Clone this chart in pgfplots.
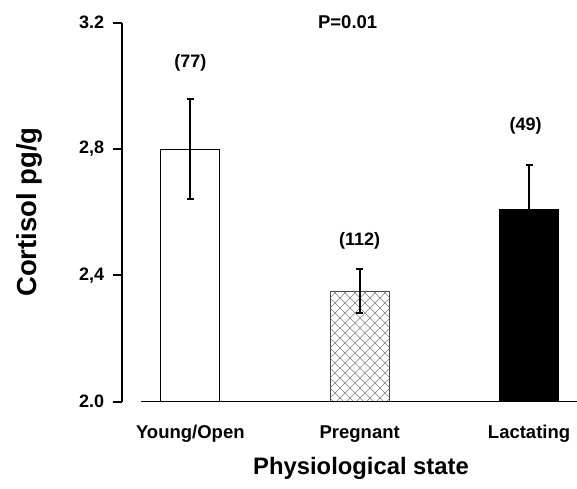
\documentclass[border=0pt]{standalone}
\usepackage{fontspec}
\setmainfont{Liberation Sans}
\usepackage{pgfplots}
\pgfplotsset{compat=1.18}
\usetikzlibrary{patterns}
\pgfdeclarepatternformonly{diagcross}{\pgfqpoint{-1pt}{-1pt}}{\pgfqpoint{11pt}{11pt}}{\pgfqpoint{10pt}{10pt}}{%
  \pgfsetlinewidth{0.6pt}%
  \pgfpathmoveto{\pgfqpoint{0pt}{0pt}}\pgfpathlineto{\pgfqpoint{10pt}{10pt}}%
  \pgfpathmoveto{\pgfqpoint{0pt}{10pt}}\pgfpathlineto{\pgfqpoint{10pt}{0pt}}%
  \pgfusepath{stroke}}
\begin{document}
\begin{tikzpicture}
\path[use as bounding box] (-121.7pt,-86.3pt) rectangle (455.3pt,401.7pt);
\begin{axis}[
  at={(0pt,0pt)}, anchor=south west,
  scale only axis, width=455.3pt, height=379pt,
  xmin=-0.405, xmax=2.283, ymin=2.0, ymax=3.2,
  clip=false,
  axis y line*=left, axis x line*=bottom,
  x axis line style={draw=none},
  y axis line style={line width=2pt},
  xtick={0,1,2}, xticklabels={Young/Open,Pregnant,Lactating},
  ytick={2.0,2.4,2.8,3.2}, yticklabels={2.0,{2,4},{2,8},3.2},
  tick align=outside,
  ytick style={line width=2pt, black},
  xtick style={draw=none},
  major tick length=9pt,
  yticklabel style={font=\fontsize{18}{21}\selectfont\bfseries, xshift=-5pt},
  xticklabel style={font=\fontsize{18.5}{21}\selectfont\bfseries, anchor=base, yshift=-28pt},
  xlabel={Physiological state},
  ylabel={Cortisol pg/g},
  xlabel style={font=\fontsize{23.8}{28}\selectfont\bfseries, at={(rel axis cs:0.5256,0)}, yshift=-66.3pt, anchor=center},
  ylabel style={font=\fontsize{27.5}{32}\selectfont\bfseries, at={(rel axis cs:0,0.5005)}, yshift=92.7pt, anchor=center},
  error bars/error bar style={line width=2.2pt, black},
  error bars/error mark options={rotate=90, line width=2pt, mark size=3.5pt, black},
]
\addplot[ybar, bar width=59pt, bar shift=0pt, fill=white, draw=black, line width=0.8pt,
  error bars/.cd, y dir=both, y explicit]
  coordinates {(0,2.8) +- (0,0.158)};
\addplot[ybar, bar width=59pt, bar shift=0pt, pattern=diagcross, pattern color=gray, draw=black!70, line width=0.8pt,
  error bars/.cd, y dir=both, y explicit]
  coordinates {(1,2.35) +- (0,0.07)};
\addplot[ybar, bar width=59pt, bar shift=0pt, fill=black, draw=black, line width=0.8pt,
  error bars/.cd, y dir=both, y explicit]
  coordinates {(2,2.61) +- (0,0.14)};
\addplot[line width=1.5pt, black] coordinates {(-0.291,2.0) (2.283,2.0)};
\node[font=\fontsize{18}{21}\selectfont\bfseries] at (axis cs:0,3.074) {(77)};
\node[font=\fontsize{18}{21}\selectfont\bfseries] at (axis cs:1,2.509) {(112)};
\node[font=\fontsize{18}{21}\selectfont\bfseries] at (axis cs:1.98,2.872) {(49)};
\node[font=\fontsize{18.5}{21}\selectfont\bfseries] at (axis cs:0.929,3.203) {P=0.01};
\end{axis}
\end{tikzpicture}
\end{document}
